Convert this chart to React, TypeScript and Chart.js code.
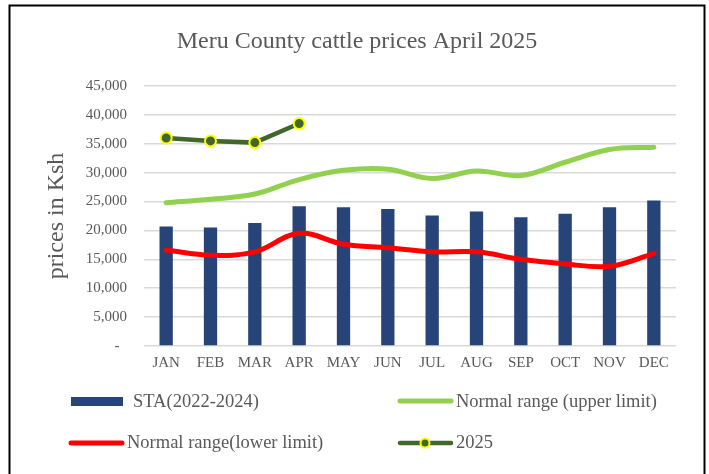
import { useEffect, useRef } from "react";
import { Chart, registerables } from "chart.js";

Chart.register(...registerables);

const titleText = "Meru County cattle prices April 2025";
const yAxisTitle = "prices in Ksh";
const months = ["JAN", "FEB", "MAR", "APR", "MAY", "JUN", "JUL", "AUG", "SEP", "OCT", "NOV", "DEC"];
const staValues = [20700, 20500, 21300, 24200, 24000, 23700, 22600, 23300, 22300, 22900, 24000, 25200];
const upperLimit = [24800, 25400, 26300, 28800, 30400, 30600, 29000, 30300, 29500, 31800, 34000, 34400];
const lowerLimit = [16600, 15700, 16300, 19500, 17600, 17000, 16300, 16300, 15000, 14200, 13800, 16000];
const prices2025 = [36000, 35500, 35200, 38500, null, null, null, null, null, null, null, null];
const yMin = 0;
const yMax = 45000;
const yStep = 5000;

const FONT = "'Liberation Serif', 'Times New Roman', serif";
const TEXT = "#595959";

const BLUE = "#264478";
const LGREEN = "#92D050";
const RED = "#FF0000";
const DGREEN = "#41672A";
const YELLOW = "#FFFF00";

const framePlugin = {
  id: "frame",
  afterDraw(chart: any) {
    const ctx = chart.ctx;
    ctx.save();
    ctx.strokeStyle = "#000";
    ctx.lineWidth = 2;
    ctx.strokeRect(9.5, 5.5, 695, 520);
    ctx.restore();
  },
};

const titlePlugin = {
  id: "customTitle",
  afterDraw(chart: any) {
    const ctx = chart.ctx;
    ctx.save();
    ctx.font = `24px ${FONT}`;
    ctx.fillStyle = TEXT;
    ctx.textAlign = "center";
    ctx.textBaseline = "middle";
    ctx.fillText(titleText, 357, 42);
    ctx.restore();
  },
};

const legendPlugin = {
  id: "customLegend",
  afterDraw(chart: any) {
    const ctx = chart.ctx;
    const ds = chart.data.datasets;
    ctx.save();
    ctx.font = `18.5px ${FONT}`;
    ctx.fillStyle = TEXT;
    ctx.textBaseline = "middle";
    ctx.textAlign = "left";
    // STA (bar)
    ctx.fillStyle = ds[0].backgroundColor;
    ctx.fillRect(71, 397, 52, 9);
    ctx.fillStyle = TEXT;
    ctx.fillText(ds[0].label, 133, 402);
    // upper
    ctx.lineCap = "round";
    ctx.strokeStyle = ds[1].borderColor;
    ctx.lineWidth = 5;
    ctx.beginPath();
    ctx.moveTo(400, 401);
    ctx.lineTo(451, 401);
    ctx.stroke();
    ctx.fillText(ds[1].label, 456, 402);
    // lower
    ctx.strokeStyle = ds[2].borderColor;
    ctx.beginPath();
    ctx.moveTo(71, 443);
    ctx.lineTo(122, 443);
    ctx.stroke();
    ctx.fillText(ds[2].label, 127, 443);
    // 2025
    ctx.strokeStyle = ds[3].borderColor;
    ctx.lineWidth = 4.5;
    ctx.beginPath();
    ctx.moveTo(400, 443);
    ctx.lineTo(451, 443);
    ctx.stroke();
    ctx.beginPath();
    ctx.arc(425, 443, 4.5, 0, Math.PI * 2);
    ctx.fillStyle = ds[3].pointBackgroundColor;
    ctx.fill();
    ctx.lineWidth = 2;
    ctx.strokeStyle = ds[3].pointBorderColor;
    ctx.stroke();
    ctx.fillStyle = TEXT;
    ctx.fillText(ds[3].label, 456, 443);
    ctx.restore();
  },
};

export default function App() {
  const ref = useRef<HTMLCanvasElement | null>(null);
  useEffect(() => {
    if (!ref.current) return;
    const chart = new Chart(ref.current, {
      type: "bar",
      data: {
        labels: months,
        datasets: [
          {
            type: "bar",
            label: "STA(2022-2024)",
            data: staValues,
            backgroundColor: BLUE,
            borderWidth: 0,
            barPercentage: 0.3,
            categoryPercentage: 1,
            order: 4,
          } as any,
          {
            type: "line",
            label: "Normal range (upper limit)",
            data: upperLimit,
            borderColor: LGREEN,
            backgroundColor: LGREEN,
            borderWidth: 5,
            pointRadius: 0,
            tension: 0.38,
            borderCapStyle: "round",
            order: 3,
          },
          {
            type: "line",
            label: "Normal range(lower limit)",
            data: lowerLimit,
            borderColor: RED,
            backgroundColor: RED,
            borderWidth: 5,
            pointRadius: 0,
            tension: 0.38,
            borderCapStyle: "round",
            order: 2,
          },
          {
            type: "line",
            label: "2025",
            data: prices2025,
            borderColor: DGREEN,
            backgroundColor: DGREEN,
            borderWidth: 4.5,
            pointRadius: 5.5,
            pointBackgroundColor: DGREEN,
            pointBorderColor: YELLOW,
            pointBorderWidth: 2,
            tension: 0,
            spanGaps: false,
            order: 1,
          },
        ],
      },
      options: {
        responsive: false,
        animation: false,
        devicePixelRatio: 1,
        layout: { padding: { left: 0, right: 33, top: 86, bottom: 98 } },
        plugins: {
          legend: { display: false },
          tooltip: { enabled: false },
          title: { display: false },
        },
        scales: {
          x: {
            grid: { display: false, drawTicks: false },
            border: { display: false },
            ticks: { color: TEXT, font: { family: FONT, size: 15 }, padding: 8, maxRotation: 0 },
            afterFit(scale: any) {
              scale.height = 30;
            },
          },
          y: {
            min: yMin,
            max: yMax,
            grid: { color: "#d9d9d9", lineWidth: 1.5, drawTicks: false },
            border: { display: false },
            ticks: {
              stepSize: yStep,
              color: TEXT,
              font: { family: FONT, size: 15 },
              padding: 17,
              callback: (v: any) => (Number(v) === 0 ? "-  " : Number(v).toLocaleString("en-US")),
            },
            title: {
              display: true,
              text: yAxisTitle,
              color: TEXT,
              font: { family: FONT, size: 24, weight: "normal" },
              padding: { top: 42, bottom: 0 },
            },
            afterFit(scale: any) {
              scale.width = 144;
            },
          },
        },
      },
      plugins: [legendPlugin, titlePlugin, framePlugin],
    });
    return () => chart.destroy();
  }, []);
  return (
    <div style={{ position: "fixed", left: 0, top: 0, width: 709, height: 474, background: "#fff" }}>
      <canvas ref={ref} width={709} height={474} style={{ display: "block" }} />
    </div>
  );
}
